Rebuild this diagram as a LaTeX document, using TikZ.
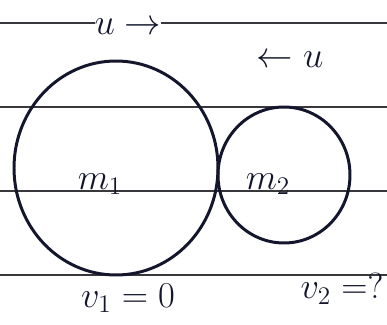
\documentclass[tikz,border=0pt]{standalone}
\usepackage{amsmath}
\usepackage{tikz}
\usetikzlibrary{arrows.meta, shapes.geometric, positioning}
\definecolor{inkblue}{RGB}{20,22,45}
\definecolor{rulegray}{RGB}{55,55,60}

\begin{document}
\begin{tikzpicture}[x=0.02cm,y=-0.02cm,
		ruling/.style={rulegray,line width=1.3pt},
		ball/.style={draw=inkblue,ellipse,line width=1.7pt,inner sep=0pt},
		hand/.style={inkblue,font=\fontsize{22}{26}\selectfont,inner sep=1pt}]
	\useasboundingbox (0,0) rectangle (387,325);
	% ruled paper
	\foreach \y in {23,107,191,275}
		\draw[ruling] (0,\y) -- (387,\y);
	% the two balls
	\node[ball,minimum width=204*0.02cm,minimum height=214*0.02cm] (ball1) at (116,168) {};
	\node[ball,minimum width=132*0.02cm,minimum height=136*0.02cm] (ball2) at (284,175) {};
	\node[hand] (m1) at (100,184) {$m_1$};
	\node[hand] (m2) at (268,184) {$m_2$};
	% velocities
	\node[hand,fill=white,inner sep=0pt] (u1) at (128,27) {$u\rightarrow$};
	\node[hand] (u2) at (290,60) {$\leftarrow u$};
	\node[hand] (v1) at (128,298) {$v_1=0$};
	\node[hand] (v2) at (342,289) {$v_2=?$};
\end{tikzpicture}
\end{document}
